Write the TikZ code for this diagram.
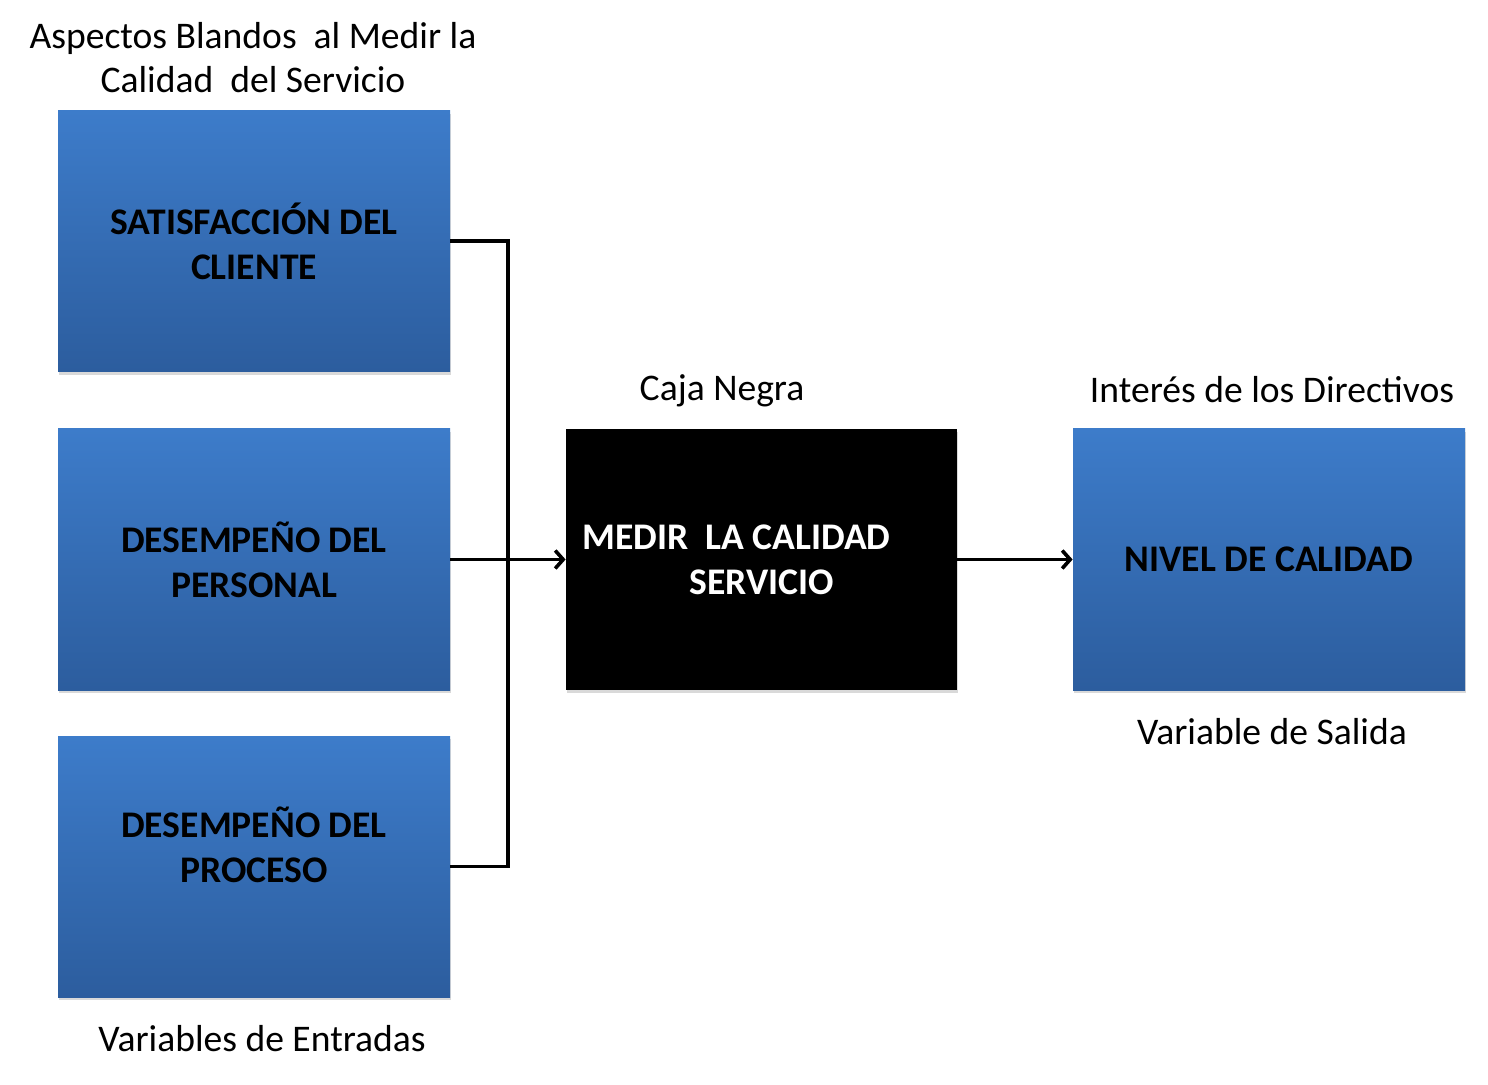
\documentclass[tikz,border=0pt]{standalone}
\usepackage{fontspec}
\setmainfont{Carlito}
\usetikzlibrary{shadows,arrows.meta}
\definecolor{boxtop}{HTML}{3D7CCA}
\definecolor{boxbottom}{HTML}{2C5D9E}
\newcommand{\notefont}{\fontsize{18.8}{22}\selectfont}
\newcommand{\boxfont}{\fontsize{18.8}{22.5}\selectfont\bfseries}
\tikzset{
  boxshadow/.style={drop shadow={shadow xshift=0.6pt,shadow yshift=-1.6pt,opacity=0.3}},
  varbox/.style={minimum width=196pt,minimum height=130.5pt,inner sep=0pt,
    top color=boxtop,bottom color=boxbottom,boxshadow,align=center,font=\boxfont},
  blackbox/.style={minimum width=195.5pt,minimum height=130.5pt,inner sep=0pt,
    fill=black,text=white,boxshadow,align=center,font=\boxfont},
  note/.style={inner sep=0pt,align=center,font=\notefont},
  link/.style={line width=1.8pt},
  arrow/.style={link,-{Straight Barb[length=4pt,width=9pt]}}
}

\begin{document}
\begin{tikzpicture}[x=0.5pt,y=-0.5pt]
  \useasboundingbox (0,0) rectangle (1488,1085);

  % input variables
  \node[varbox] (sat) at (254,241) {SATISFACCIÓN DEL\\CLIENTE};
  \node[varbox] (desp) at (254,559.5) {DESEMPEÑO DEL\\PERSONAL};
  \node[varbox] (proc) at (254,866.5) {};
  \node[inner sep=0pt,align=center,font=\boxfont] (proctext) at (254,844.5) {DESEMPEÑO DEL\\PROCESO};

  % black box and output
  \node[blackbox] (medir) at (761.5,559.5) {MEDIR\ \ LA CALIDAD\hspace*{25pt}\\SERVICIO};
  \node[varbox] (nivel) at (1269,559.5) {NIVEL DE CALIDAD};

  % labels
  \node[note] (aspectos) at (253,58) {Aspectos Blandos\ \ al Medir la\\Calidad\ \ del Servicio};
  \node[note] (caja) at (722,391) {Caja Negra};
  \node[note] (interes) at (1272,390) {Interés de los Directivos};
  \node[note] (salida) at (1272,732) {Variable de Salida};
  \node[note] (entradas) at (262,1039) {Variables de Entradas};

  % connectors
  \coordinate (bus) at (508,559.5);
  \draw[link] (sat.east) -| (bus) |- (proc.east);
  \draw[arrow] (desp.east) -- (medir.west);
  \draw[arrow] (medir.east) -- (nivel.west);
\end{tikzpicture}
\end{document}
